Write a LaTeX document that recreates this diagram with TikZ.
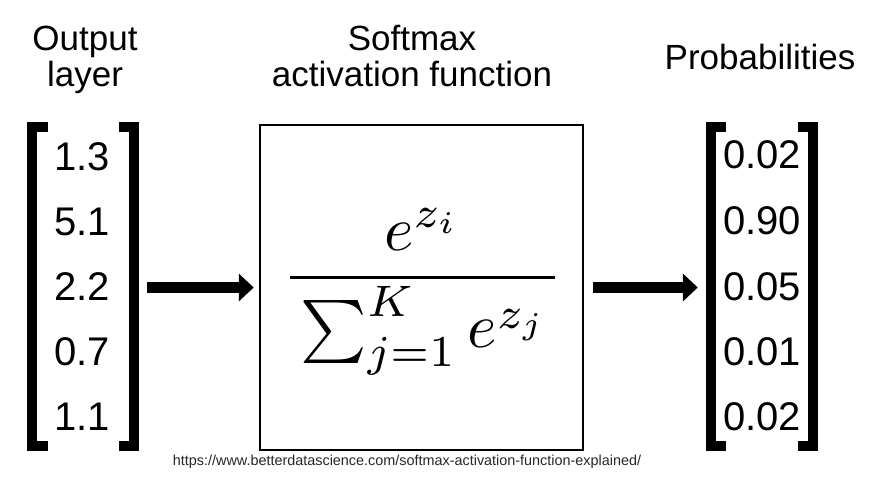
\documentclass[tikz,border=0pt]{standalone}
\usepackage{amsmath}
\usepackage[no-math]{fontspec}
\setmainfont{Liberation Sans}
\usepackage{graphicx}
\usetikzlibrary{arrows.meta}
\tikzset{
  title/.style={font=\fontsize{35}{36}\selectfont, align=center, anchor=base},
  num/.style={font=\fontsize{40}{40}\selectfont, anchor=base},
  brk/.style={line width=10pt, line cap=butt, line join=miter},
  bigarrow/.style={line width=11pt, -{Triangle[length=15pt,width=27pt]}},
  vec/.style={minimum width=#1, minimum height=328pt, inner sep=0pt},
  fbox/.style={draw, line width=2.5pt, minimum width=323pt, minimum height=325pt, inner sep=0pt},
  url/.style={font=\fontsize{14.4}{15}\selectfont, text=black!85, anchor=base}
}
\begin{document}
\begin{tikzpicture}[x=1pt,y=-1pt]
\useasboundingbox (0,0) rectangle (873,503);
% titles
\node[title] (t1) at (85,87) {Output\\layer};
\node[title] (t2) at (412,87) {Softmax\\activation function};
\node[title] (t3) at (760,70) {Probabilities};
% left vector
\node[vec=113pt] (lv) at (83.5,286) {};
\draw[brk] (48,127) -- (32,127) -- (32,446) -- (48,446);
\draw[brk] (119,127) -- (134,127) -- (134,446) -- (119,446);
\node[num] (l1) at (82,170) {1.3};
\node[num] (l2) at (82,235) {5.1};
\node[num] (l3) at (82,300) {2.2};
\node[num] (l4) at (82,365) {0.7};
\node[num] (l5) at (82,430) {1.1};
% box
\node[fbox] (sm) at (421.5,287.5) {};
\node[anchor=base, inner sep=0pt] (f) at (422.5,293)
  {\scalebox{6.3}{$\displaystyle\frac{e^{z_i}}{\mkern3mu\sum_{j=1}^{K} e^{z_j}\mkern2mu}$}};
% right vector
\node[vec=112pt] (rv) at (762,286) {};
\draw[brk] (726,127) -- (711,127) -- (711,446) -- (726,446);
\draw[brk] (798,127) -- (813,127) -- (813,446) -- (798,446);
\node[num] (r1) at (762,168) {0.02};
\node[num] (r2) at (762,234) {0.90};
\node[num] (r3) at (762,300) {0.05};
\node[num] (r4) at (762,365) {0.01};
\node[num] (r5) at (762,430) {0.02};
% arrows
\draw[bigarrow, shorten <=7pt, shorten >=5pt] (lv.east |- sm.west) -- (sm.west);
\draw[bigarrow, shorten <=9pt, shorten >=8pt] (sm.east) -- (rv.west |- sm.east);
% url
\node[url] (u) at (407,465) {https://www.betterdatascience.com/softmax-activation-function-explained/};
\end{tikzpicture}
\end{document}
